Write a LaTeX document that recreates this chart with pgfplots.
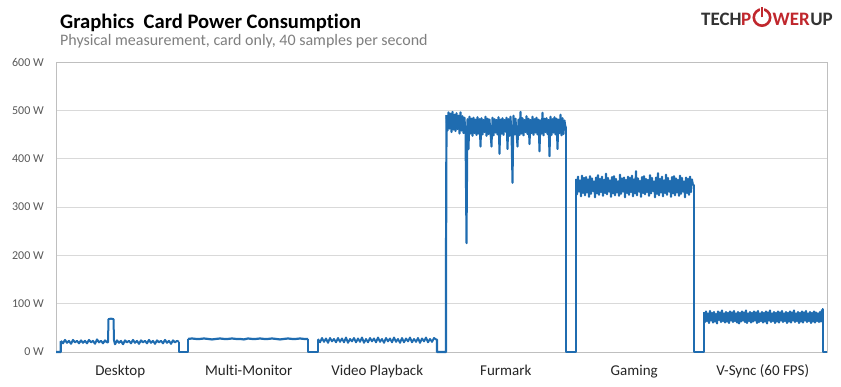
\documentclass[border=0pt]{standalone}
\usepackage{pgfplots}
\usepackage{pgfplotstable}
\pgfplotsset{compat=1.18}
\usepackage{fontspec}
\setmainfont{Carlito}[Ligatures=NoCommon]
\definecolor{tpublue}{RGB}{31,108,176}
\definecolor{gridgray}{RGB}{217,217,217}
\definecolor{axgray}{RGB}{191,191,191}
\definecolor{ticktext}{RGB}{89,89,89}
\definecolor{cattext}{RGB}{38,38,38}
\definecolor{subgray}{RGB}{127,127,127}
\definecolor{logored}{RGB}{192,39,45}
\definecolor{logodark}{RGB}{51,51,51}

% noisy segments (watts), one value per step
\pgfplotstableread[row sep=\\]{y\\27\\28\\27\\27\\28\\27\\26\\27\\28\\27\\27\\28\\27\\27\\26\\28\\27\\27\\28\\27\\27\\28\\27\\26\\27\\28\\27\\27\\28\\27\\27\\}\multimon
\pgfplotstableread[row sep=\\]{y\\27\\20\\29\\21\\28\\19\\29\\22\\27\\20\\29\\21\\28\\20\\30\\19\\27\\22\\29\\20\\28\\21\\30\\19\\27\\20\\29\\22\\28\\20\\30\\21\\27\\19\\29\\22\\28\\20\\30\\21\\27\\19\\29\\20\\28\\22\\30\\20\\27\\21\\29\\19\\28\\22\\30\\20\\27\\21\\29\\26\\}\video
\pgfplotstableread[row sep=\\]{y\\490\\458\\496\\462\\493\\455\\497\\460\\491\\457\\494\\461\\489\\452\\496\\458\\488\\453\\485\\451\\225\\482\\420\\487\\452\\483\\447\\485\\453\\481\\449\\486\\452\\482\\425\\484\\450\\480\\455\\487\\447\\483\\451\\481\\453\\425\\485\\448\\482\\454\\480\\450\\486\\410\\481\\452\\484\\449\\480\\456\\485\\420\\482\\447\\487\\453\\350\\489\\450\\483\\454\\425\\481\\449\\497\\452\\484\\448\\480\\455\\488\\451\\483\\430\\480\\453\\487\\449\\482\\454\\485\\450\\481\\415\\479\\452\\495\\448\\483\\455\\484\\451\\480\\405\\487\\449\\482\\454\\486\\450\\483\\420\\481\\453\\491\\448\\484\\451\\479\\465\\}\furmark
\pgfplotstableread[row sep=\\]{y\\358\\326\\363\\332\\355\\322\\365\\329\\360\\324\\362\\330\\357\\321\\364\\327\\359\\333\\353\\320\\361\\328\\366\\325\\358\\331\\363\\323\\356\\329\\369\\326\\360\\332\\355\\321\\362\\328\\364\\324\\358\\330\\353\\323\\367\\327\\359\\332\\361\\320\\356\\329\\363\\325\\360\\331\\365\\322\\357\\328\\374\\324\\359\\332\\354\\321\\362\\329\\364\\326\\358\\331\\356\\323\\366\\328\\360\\333\\353\\320\\361\\327\\370\\324\\358\\330\\363\\322\\355\\329\\367\\325\\360\\332\\354\\321\\362\\328\\364\\324\\359\\330\\356\\323\\365\\327\\360\\332\\353\\320\\361\\329\\358\\325\\363\\331\\357\\345\\}\gaming
\pgfplotstableread[row sep=\\]{y\\82\\62\\84\\64\\80\\60\\85\\65\\81\\61\\83\\63\\79\\59\\84\\66\\82\\62\\86\\64\\80\\61\\83\\63\\81\\60\\84\\65\\82\\62\\85\\64\\80\\61\\83\\59\\81\\63\\84\\65\\82\\62\\86\\60\\80\\64\\83\\61\\81\\63\\84\\65\\82\\60\\85\\62\\80\\64\\83\\61\\81\\63\\84\\59\\82\\65\\86\\62\\80\\64\\83\\60\\81\\63\\84\\61\\82\\65\\85\\62\\80\\64\\83\\60\\81\\63\\84\\61\\82\\65\\86\\62\\80\\64\\83\\60\\81\\63\\84\\61\\82\\65\\85\\62\\80\\64\\83\\60\\81\\63\\84\\61\\82\\64\\80\\62\\83\\63\\88\\}\vsync

\begin{document}
\begin{tikzpicture}[x=1pt,y=1pt]
\useasboundingbox (0,0) rectangle (841,387);
\fill[white] (0,0) rectangle (841,387);
\begin{axis}[
  at={(56pt,35pt)}, anchor=south west,
  scale only axis, width=771pt, height=290pt,
  xmin=0, xmax=771, ymin=0, ymax=600,
  clip=false,
  axis line style={axgray, line width=0.6pt},
  ymajorgrids, grid style={gridgray, line width=0.75pt},
  major tick length=0pt,
  ytick={0,100,200,300,400,500,600},
  yticklabels={0 W,100 W,200 W,300 W,400 W,500 W,600 W},
  xtick={64.25,192.75,321.25,449.75,578.25,706.75},
  xticklabels={Desktop,Multi-Monitor,Video Playback,Furmark,Gaming,V-Sync (60 FPS)},
  yticklabel style={font=\fontsize{12}{14}\selectfont, text=ticktext, anchor=east, inner sep=0pt, xshift=-12pt},
  xticklabel style={font=\fontsize{15}{18}\selectfont, text=cattext, anchor=base, inner sep=0pt, yshift=-24pt},
  /pgf/number format/assume math mode=true,
  every axis plot/.append style={tpublue, line join=round},
]
% steps between the test phases
\addplot[line width=2.2pt] coordinates {(0,0) (4.7,0) (4.7,21) (5,22)};
\addplot[line width=2.2pt] coordinates {(123,21) (123,0) (132,0) (132,27)};
\addplot[line width=2.2pt] coordinates {(252,27) (252,0) (262,0) (262,25)};
\addplot[line width=2.2pt] coordinates {(380,26) (381,25) (381,0) (390,0) (390,176) (390.5,490)};
\addplot[line width=2.2pt] coordinates {(509.5,465) (510,465) (510,0) (520,0) (520,358)};
\addplot[line width=2.2pt] coordinates {(637,345) (638,345) (638,0) (648,0) (648,82)};
\addplot[line width=2.2pt] coordinates {(766,88) (767,88) (767,0) (771,0)};
% phases
\addplot[line width=2pt] coordinates {
 (5,23)(7,18)(9,25)(11,19)(13,23)(15,17)(17,25)(19,20)(21,23)(23,18)(25,24)(27,19)(29,23)(31,18)
 (33,25)(35,20)(37,23)(39,17)(41,26)(43,20)(45,23)(47,18)(49,24)(51,20)(52,20)(52.5,68)(55,69)(57.5,68)
 (58,24)(59,16)(61,24)(63,19)(65,23)(67,16)(69,24)(71,20)(73,23)(75,18)(77,25)(79,19)(81,23)(83,17)
 (85,24)(87,20)(89,23)(91,18)(93,25)(95,19)(97,23)(99,17)(101,24)(103,20)(105,23)(107,18)(109,25)
 (111,19)(113,23)(115,17)(117,24)(119,20)(121,23)(123,21)};
\addplot[line width=2.2pt] table[x expr=132+4*\coordindex, y=y] {\multimon};
\addplot[line width=1.9pt] table[x expr=262+2*\coordindex, y=y] {\video};
\addplot[line width=2pt] table[x expr=390.5+\coordindex, y=y] {\furmark};
\addplot[line width=2pt] table[x expr=520+\coordindex, y=y] {\gaming};
\addplot[line width=2pt] table[x expr=648+\coordindex, y=y] {\vsync};
\end{axis}
% title and subtitle
\node[anchor=base west, inner sep=0pt, font=\bfseries\fontsize{20.6}{24}\selectfont, text=black] at (60,358) {Graphics\ \ Card Power Consumption};
\node[anchor=base west, inner sep=0pt, font=\fontsize{16}{19}\selectfont, text=subgray] at (60,341) {Physical measurement, card only, 40 samples per second};
% logo
\node[anchor=base west, inner sep=0pt, font=\bfseries\fontsize{19}{22}\selectfont, text=logodark] at (701,361.5) {TECH};
\node[anchor=base east, inner sep=0pt, font=\bfseries\fontsize{19}{22}\selectfont, text=logored] at (751.5,361.5) {P};
\draw[logored, line width=2.6pt] (762,369.5) circle (8.2pt);
\draw[white, line width=3.5pt] (762,369.5) -- (762,380);
\draw[logored, line width=2.2pt] (762,369.5) -- (762,380);
\node[anchor=base west, inner sep=0pt, font=\bfseries\fontsize{19}{22}\selectfont, text=logored] at (772.5,361.5) {WER};
\node[anchor=base east, inner sep=0pt, font=\bfseries\fontsize{19}{22}\selectfont, text=logodark] at (833,361.5) {UP};
\end{tikzpicture}
\end{document}
